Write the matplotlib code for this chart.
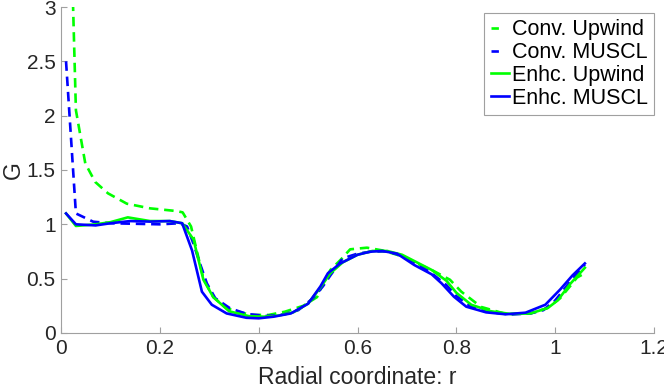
import matplotlib
matplotlib.use("Agg")
from matplotlib import pyplot as plt

plt.rcParams['font.family'] = ['Liberation Sans', 'DejaVu Sans']

# Conv. Upwind
r_cu = [0.024, 0.03, 0.049, 0.069, 0.095, 0.133, 0.18, 0.234, 0.246, 0.263, 0.288, 0.308, 0.335,
        0.383, 0.42, 0.453, 0.49, 0.518, 0.53, 0.545, 0.565, 0.585, 0.619, 0.65, 0.68, 0.715,
        0.75, 0.787, 0.81, 0.85, 0.90, 0.95, 0.983, 1.01, 1.03, 1.044, 1.06]
g_cu = [3.05, 2.05, 1.56, 1.39, 1.285, 1.19, 1.147, 1.122, 1.11, 0.98, 0.50, 0.33, 0.227,
        0.166, 0.166, 0.196, 0.25, 0.33, 0.457, 0.58, 0.67, 0.77, 0.785, 0.76, 0.72, 0.65,
        0.58, 0.49, 0.38, 0.24, 0.175, 0.18, 0.227, 0.32, 0.43, 0.51, 0.55]

# Conv. MUSCL
r_cm = [0.01, 0.03, 0.065, 0.10, 0.15, 0.20, 0.24, 0.255, 0.268, 0.281, 0.295, 0.312, 0.342,
        0.376, 0.416, 0.45, 0.48, 0.51, 0.53, 0.545, 0.57, 0.60, 0.63, 0.66, 0.69, 0.72,
        0.75, 0.78, 0.80, 0.83, 0.87, 0.91, 0.95, 0.976, 1.0, 1.03, 1.06]
g_cm = [2.50, 1.10, 1.024, 1.01, 1.005, 1.00, 1.01, 0.98, 0.82, 0.64, 0.457, 0.32, 0.227,
        0.175, 0.157, 0.17, 0.21, 0.32, 0.43, 0.53, 0.687, 0.73, 0.75, 0.75, 0.71, 0.64,
        0.55, 0.44, 0.34, 0.24, 0.19, 0.17, 0.18, 0.21, 0.30, 0.47, 0.63]

# Enhc. Upwind
r_eu = [0.01, 0.03, 0.07, 0.10, 0.135, 0.18, 0.22, 0.245, 0.268, 0.288, 0.308, 0.34, 0.38,
        0.41, 0.44, 0.47, 0.50, 0.525, 0.545, 0.57, 0.60, 0.63, 0.66, 0.69, 0.72, 0.75,
        0.78, 0.80, 0.83, 0.87, 0.91, 0.95, 0.985, 1.005, 1.03, 1.06]
g_eu = [1.10, 0.985, 1.00, 1.02, 1.064, 1.03, 1.03, 1.01, 0.86, 0.49, 0.33, 0.20, 0.155,
        0.15, 0.16, 0.19, 0.27, 0.42, 0.55, 0.65, 0.72, 0.755, 0.755, 0.72, 0.65, 0.58,
        0.48, 0.37, 0.26, 0.20, 0.175, 0.18, 0.23, 0.30, 0.45, 0.60]

# Enhc. MUSCL
r_em = [0.01, 0.03, 0.07, 0.10, 0.14, 0.18, 0.22, 0.245, 0.265, 0.285, 0.305, 0.335, 0.375,
        0.40, 0.43, 0.465, 0.50, 0.525, 0.54, 0.565, 0.60, 0.625, 0.65, 0.68, 0.715, 0.75,
        0.77, 0.795, 0.82, 0.86, 0.90, 0.94, 0.98, 1.01, 1.035, 1.06]
g_em = [1.10, 1.00, 0.99, 1.01, 1.03, 1.025, 1.03, 1.01, 0.76, 0.38, 0.26, 0.18, 0.14,
        0.135, 0.15, 0.18, 0.27, 0.43, 0.55, 0.64, 0.72, 0.748, 0.755, 0.73, 0.625, 0.54,
        0.457, 0.334, 0.242, 0.19, 0.172, 0.187, 0.26, 0.40, 0.53, 0.64]

green = "#00ff00"
blue = "#0000ff"
lw = 1.9
dash = (3.6, 2.2)

fig = plt.figure(figsize=(6.64, 3.89), dpi=100)
ax = fig.add_axes([0.092, 0.144, 0.893, 0.838])

ax.plot(r_cu, g_cu, color=green, lw=lw, dashes=dash, label="Conv. Upwind")
ax.plot(r_cm, g_cm, color=blue, lw=lw, dashes=dash, label="Conv. MUSCL")
ax.plot(r_eu, g_eu, color=green, lw=lw, label="Enhc. Upwind")
ax.plot(r_em, g_em, color=blue, lw=lw, label="Enhc. MUSCL")

ax.set_xlim(0, 1.2)
ax.set_ylim(0, 3)
ax.set_xticks([0, 0.2, 0.4, 0.6, 0.8, 1, 1.2])
ax.set_xticklabels(["0", "0.2", "0.4", "0.6", "0.8", "1", "1.2"])
ax.set_yticks([0, 0.5, 1, 1.5, 2, 2.5, 3])
ax.set_yticklabels(["0", "0.5", "1", "1.5", "2", "2.5", "3"])

for s in ["top", "right"]:
    ax.spines[s].set_visible(False)
for s in ["left", "bottom"]:
    ax.spines[s].set_color("#a0a0a0")
    ax.spines[s].set_linewidth(0.8)
ax.tick_params(direction="in", length=4, color="#a0a0a0", labelsize=15, labelcolor="#262626", pad=4)

ax.set_xlabel("Radial coordinate: r", fontsize=16.5, color="#262626", labelpad=6)
ax.set_ylabel("G", fontsize=16.5, color="#262626", labelpad=1)

leg = ax.legend(loc="upper right", bbox_to_anchor=(654 / 664, 1 - 13 / 389),
                bbox_transform=fig.transFigure, fontsize=15.5, handlelength=0.85,
                handletextpad=0.12, borderpad=0.3, borderaxespad=0.0, labelspacing=0.08,
                fancybox=False, framealpha=1)
leg.get_frame().set_edgecolor("#a0a0a0")
leg.get_frame().set_linewidth(0.8)
for h in leg.get_lines()[:2]:
    h.set_dashes((2.8, 12))

fig.savefig("out.png", dpi=100)
